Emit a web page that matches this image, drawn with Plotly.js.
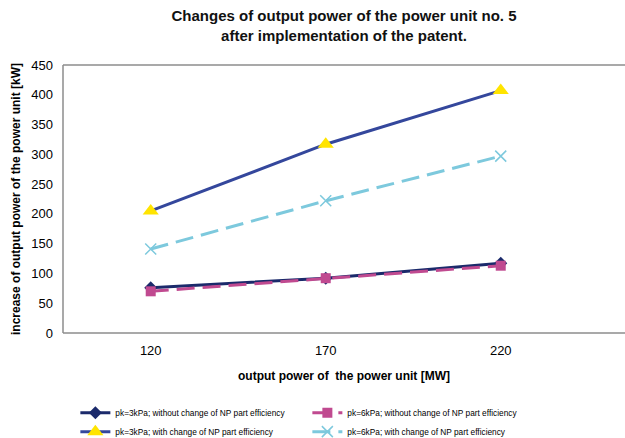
<!DOCTYPE html>
<html><head><meta charset="utf-8">
<script src="https://cdn.plot.ly/plotly-3.0.1.min.js"></script>
<style>html,body{margin:0;padding:0;background:#fff}#chart{width:625px;height:438px}</style>
</head><body><div id="chart"></div>
<script>
var categories = [120, 170, 220];
var tickLabels = ['120', '170', '220'];
var seriesNames = [
  'pk=3kPa; without change of NP part efficiency',
  'pk=6kPa; without change of NP part efficiency',
  'pk=3kPa; with change of NP part efficiency',
  'pk=6kPa; with change of NP part efficiency'
];
var pk3Without = [76, 92, 117];
var pk6Without = [70, 92, 113];
var pk3With = [205, 317, 407];
var pk6With = [141, 222, 297];

var traces = [
  {x: categories, y: pk3Without, name: seriesNames[0], mode: 'lines+markers', type: 'scatter',
   line: {color: '#1B2A6B', width: 3}, marker: {symbol: 'diamond', size: 10, color: '#1B2A6B'}},
  {x: categories, y: pk6Without, name: seriesNames[1], mode: 'lines+markers', type: 'scatter',
   line: {color: '#C04A90', width: 3, dash: '18px,8px'}, marker: {symbol: 'square', size: 10, color: '#C04A90'}},
  {x: categories, y: pk3With, name: seriesNames[2], mode: 'lines+markers', type: 'scatter',
   line: {color: '#34479C', width: 3}, marker: {symbol: 'triangle-up', size: 14, color: '#FFE400'}},
  {x: categories, y: pk6With, name: seriesNames[3], mode: 'lines+markers', type: 'scatter',
   line: {color: '#7DC9DD', width: 3, dash: '18px,8px'}, marker: {symbol: 'x-thin-open', size: 11, line: {color: '#7DC9DD', width: 1.5}, color: '#7DC9DD'}}
];

var layout = {
  width: 625, height: 438,
  paper_bgcolor: '#fff', plot_bgcolor: '#fff',
  margin: {l: 63, r: 0, t: 65, b: 105},
  font: {family: 'Liberation Sans, Arial, sans-serif', color: '#000'},
  title: {text: '<b>Changes of output power of the power unit no. 5<br>after implementation of the patent.</b>',
          font: {size: 15, color: '#111'}, x: 0.5, xref: 'paper', yref: 'container', y: 0.952, yanchor: 'middle'},
  xaxis: {range: [94.94, 255.5], tickvals: categories, ticktext: tickLabels, showgrid: false, zeroline: false,
          showline: false, ticks: '', tickfont: {size: 13}, fixedrange: true, ticklabelstandoff: 8,
          automargin: false,
          title: {text: '<b>output power of  the power unit [MW]</b>', font: {size: 12}, standoff: 14}},
  yaxis: {range: [0, 450], dtick: 50, showgrid: false, zeroline: false, showline: false, ticks: '',
          tickfont: {size: 13}, ticklabelstandoff: 9, automargin: false,
          title: {text: '<b>increase of output power of the power unit [kW]</b>', font: {size: 12}, standoff: 8}},
  shapes: [
    {type: 'line', xref: 'paper', yref: 'paper', x0: 0, x1: 1.01, y0: 1, y1: 1, line: {color: '#8c8c8c', width: 1.5}},
    {type: 'line', xref: 'paper', yref: 'paper', x0: 0, x1: 1.01, y0: 0, y1: 0, line: {color: '#8c8c8c', width: 1.5}},
    {type: 'line', xref: 'paper', yref: 'paper', x0: 0, x1: 0, y0: 0, y1: 1, line: {color: '#8c8c8c', width: 1.5}}
  ],
  showlegend: true,
  legend: {orientation: 'h', x: 0.022, xanchor: 'left', yref: 'container', y: 0.091, yanchor: 'top', entrywidth: 187,
           font: {size: 8.3}, bgcolor: 'rgba(0,0,0,0)', traceorder: 'normal'}
};
Plotly.newPlot('chart', traces, layout, {displayModeBar: false, staticPlot: true});
</script></body></html>
